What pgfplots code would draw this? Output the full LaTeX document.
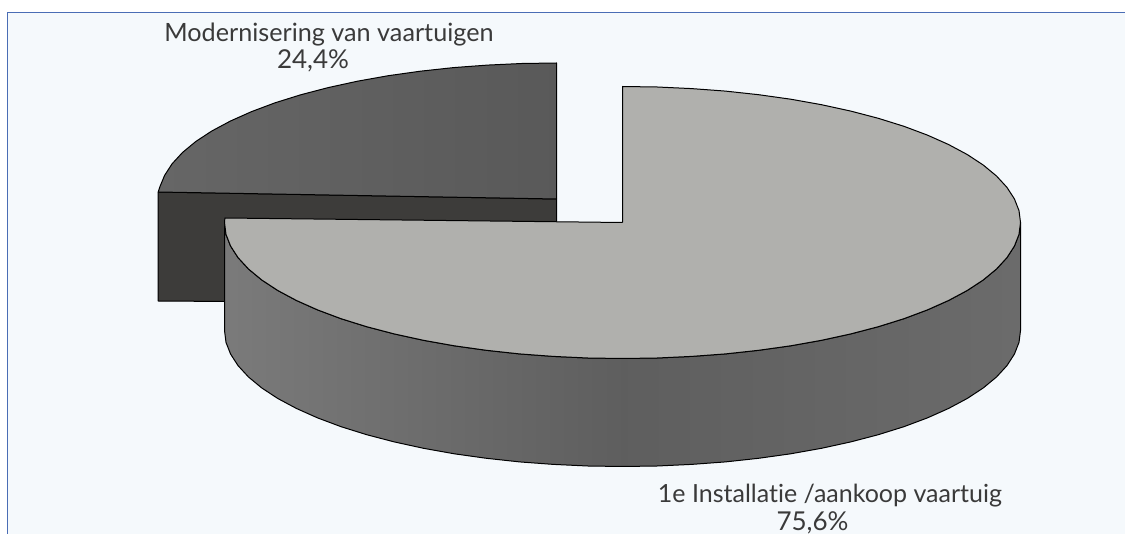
\documentclass[border=0pt]{standalone}
\usepackage{pgfplots}
\pgfplotsset{compat=1.18}
\usepackage{fontspec}
\setmainfont[Ligatures=NoCommon]{Lato}
\definecolor{bgc}{HTML}{F5F9FC}
\definecolor{bordc}{HTML}{4A6DB5}
\definecolor{lighttop}{HTML}{B0B0AD}
\definecolor{smallfront}{HTML}{3D3C3A}
\definecolor{txt}{HTML}{3A3A3A}
\begin{document}
\begin{tikzpicture}
\begin{axis}[
  hide axis, scale only axis, width=1125pt, height=534pt,
  xmin=0, xmax=1125, ymin=0, ymax=534, y dir=reverse,
  clip=true, axis on top=false,
]
% page
\addplot[fill=white, draw=none] coordinates {(0,0) (1125,0) (1125,534) (0,534) (0,0)};
% panel
\addplot[fill=bgc, draw=none] coordinates {(7.5,534) (7.5,12.5) (1125,12.5) (1125,534) (7.5,534)};
\addplot[color=bordc, line width=1pt] coordinates {(7.5,534) (7.5,12.5) (1125,12.5)};
% small slice, front face
\addplot[fill=smallfront, draw=black, line width=1pt, line join=round] coordinates {
 (158.2,192) (556.5,199) (556.5,240) (300,302) (158.2,301) (158.2,192)};
% small slice, top
\addplot[draw=black, line width=1pt, line join=round, left color=black!60, right color=black!65] coordinates {
 (556.5,199) (556.5,63) (521.8,63.5) (487.4,65.1) (453.5,67.6) (420.4,71.2) (388.3,75.7) (357.5,81.2) (328.2,87.6) (300.7,94.8) (275.1,102.8) (251.6,111.6) (230.5,121.0) (211.8,131.0) (195.8,141.5) (182.5,152.5) (172.1,163.8) (164.6,175.4) (160.0,186.5) (158.2,192) (556.5,199)};
% main slice, side
\addplot[draw=black, line width=1pt, line join=round, left color=black!52, right color=black!58, middle color=black!63] coordinates {
 (1020.5,222.5) (1019.0,234.4) (1014.4,246.1) (1006.9,257.7) (996.5,269.0) (983.2,280.0) (967.2,290.5) (948.5,300.5) (927.4,309.9) (903.9,318.7) (878.3,326.7) (850.8,333.9) (821.5,340.3) (790.7,345.8) (758.6,350.3) (725.5,353.9) (691.6,356.4) (657.2,358.0) (622.5,358.5) (587.8,358.0) (553.4,356.4) (519.5,353.9) (486.4,350.3) (454.3,345.8) (423.5,340.3) (394.2,333.9) (366.7,326.7) (341.1,318.7) (317.6,309.9) (296.5,300.5) (277.8,290.5) (261.8,280.0) (248.5,269.0) (238.1,257.7) (230.6,246.1) (226.0,234.4) (224.5,222.5)
 (224.5,330.5) (226.0,342.4) (230.6,354.1) (238.1,365.7) (248.5,377.0) (261.8,388.0) (277.8,398.5) (296.5,408.5) (317.6,417.9) (341.1,426.7) (366.7,434.7) (394.2,441.9) (423.5,448.3) (454.3,453.8) (486.4,458.3) (519.5,461.9) (553.4,464.4) (587.8,466.0) (622.5,466.5) (657.2,466.0) (691.6,464.4) (725.5,461.9) (758.6,458.3) (790.7,453.8) (821.5,448.3) (850.8,441.9) (878.3,434.7) (903.9,426.7) (927.4,417.9) (948.5,408.5) (967.2,398.5) (983.2,388.0) (996.5,377.0) (1006.9,365.7) (1014.4,354.1) (1019.0,342.4) (1020.5,330.5) (1020.5,222.5)};
% main slice, top
\addplot[fill=lighttop, draw=black, line width=1pt, line join=round] coordinates {
 (622.5,222.5) (622.5,86.5) (657.2,87.0) (691.6,88.6) (725.5,91.1) (758.6,94.7) (790.7,99.2) (821.5,104.7) (850.8,111.1) (878.3,118.3) (903.9,126.3) (927.4,135.1) (948.5,144.5) (967.2,154.5) (983.2,165.0) (996.5,176.0) (1006.9,187.3) (1014.4,198.9) (1019.0,210.6) (1020.5,222.5) (1019.0,234.4) (1014.4,246.1) (1006.9,257.7) (996.5,269.0) (983.2,280.0) (967.2,290.5) (948.5,300.5) (927.4,309.9) (903.9,318.7) (878.3,326.7) (850.8,333.9) (821.5,340.3) (790.7,345.8) (758.6,350.3) (725.5,353.9) (691.6,356.4) (657.2,358.0) (622.5,358.5) (587.8,358.0) (553.4,356.4) (519.5,353.9) (486.4,350.3) (454.3,345.8) (423.5,340.3) (394.2,333.9) (366.7,326.7) (341.1,318.7) (317.6,309.9) (296.5,300.5) (277.8,290.5) (261.8,280.0) (248.5,269.0) (238.1,257.7) (230.6,246.1) (226.0,234.4) (224.5,222.5) (224.9,218) (622.5,222.5)};
% labels
\node[text=txt, anchor=base, inner sep=0pt] at (axis cs:329,42) {\fontsize{25.2}{28}\selectfont Modernisering van vaartuigen};
\node[text=txt, anchor=base, inner sep=0pt] at (axis cs:313,69) {\fontsize{26}{28}\selectfont 24,4\%};
\node[text=txt, anchor=base, inner sep=0pt] at (axis cs:830,503) {\fontsize{25}{28}\selectfont 1e Installatie /aankoop vaartuig};
\node[text=txt, anchor=base, inner sep=0pt] at (axis cs:812.5,530) {\fontsize{26}{28}\selectfont 75,6\%};
\end{axis}
\end{tikzpicture}
\end{document}
